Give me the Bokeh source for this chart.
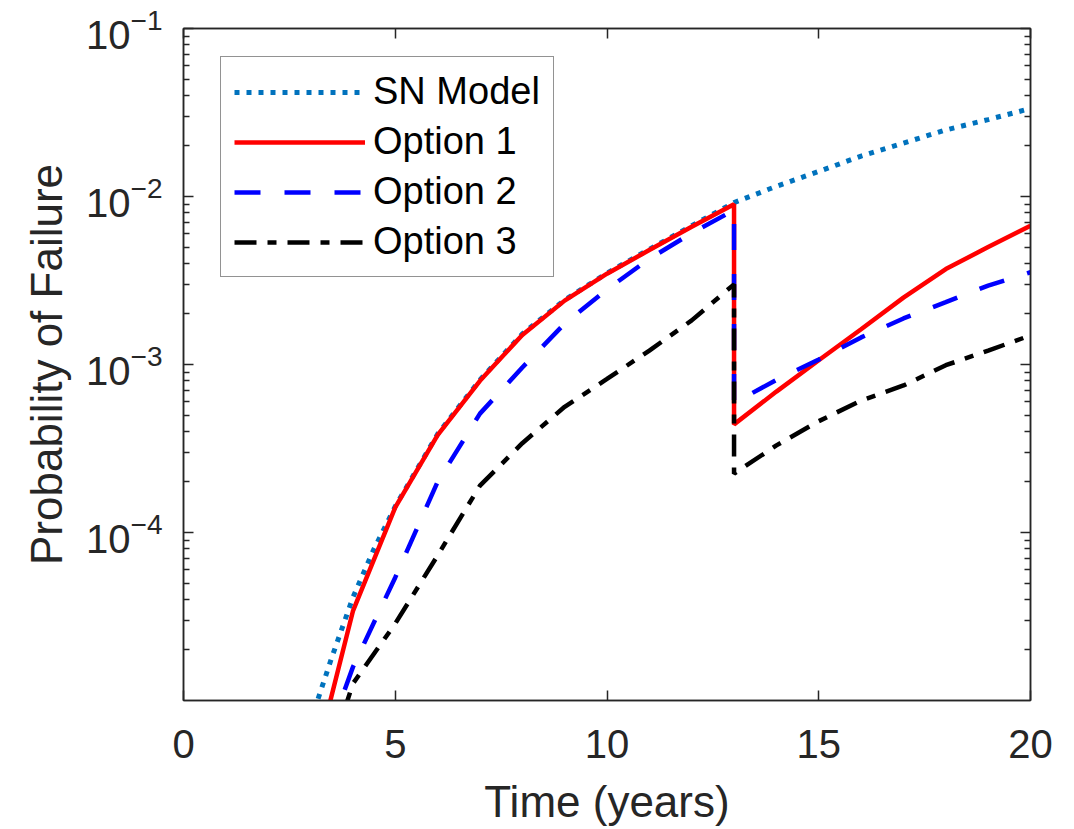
from bokeh.plotting import figure
from bokeh.models import (LogAxis, LinearAxis, FixedTicker, CustomJSTickFormatter,
                          Legend, LegendItem, Range1d)
from bokeh.embed import file_html
from bokeh.resources import INLINE

# ---------------- data ----------------
t_sn = [3, 3.5, 4, 4.5, 5, 6, 7, 8, 9, 10, 11, 12, 13, 14, 15, 16, 17, 18, 19, 20]
sn_model = [7.5e-6, 1.8e-5, 4.1e-5, 8.0e-5, 1.43e-4, 3.85e-4, 8.1e-4, 1.52e-3, 2.42e-3,
            3.5e-3, 4.85e-3, 6.7e-3, 9.2e-3, 1.15e-2, 1.41e-2, 1.74e-2, 2.08e-2,
            2.49e-2, 2.87e-2, 3.34e-2]

t_opt = [3, 4, 5, 6, 7, 8, 9, 10, 11, 12, 13, 13, 14, 15, 16, 17, 18, 19, 20]
option1 = [3.4e-6, 3.4e-5, 1.41e-4, 3.8e-4, 8.0e-4, 1.5e-3, 2.4e-3, 3.47e-3, 4.8e-3,
           6.6e-3, 9.0e-3, 4.4e-4, 6.9e-4, 1.06e-3, 1.62e-3, 2.5e-3, 3.7e-3, 5.0e-3, 6.7e-3]
option2 = [3.2e-6, 1.58e-5, 5.4e-5, 2.0e-4, 5.1e-4, 9.6e-4, 1.75e-3, 2.8e-3, 4.26e-3,
           6.05e-3, 8.3e-3, 5.9e-4, 8.1e-4, 1.07e-3, 1.45e-3, 1.88e-3, 2.35e-3, 2.95e-3, 3.54e-3]
option3 = [2.1e-6, 1.26e-5, 2.87e-5, 7.3e-5, 1.9e-4, 3.4e-4, 5.6e-4, 8.2e-4, 1.21e-3,
           1.83e-3, 3.0e-3, 2.24e-4, 3.3e-4, 4.6e-4, 6.1e-4, 7.5e-4, 9.9e-4, 1.21e-3, 1.49e-3]

series_labels = ["SN Model", "Option 1", "Option 2", "Option 3"]
x_ticks = [0, 5, 10, 15, 20]
y_major = [1e-4, 1e-3, 1e-2, 1e-1]
y_minor = [m * 10.0 ** e for e in range(-5, -1) for m in range(2, 10)]

# ---------------- styling ----------------
AX = "#262626"
FONT = "Liberation Sans"

p = figure(width=1074, height=829,
           x_range=Range1d(0, 20), y_range=Range1d(1e-5, 1e-1),
           y_axis_type="log", output_backend="svg", toolbar_location=None,
           min_border_left=183, min_border_right=44,
           min_border_top=28, min_border_bottom=129)
p.background_fill_color = "white"
p.border_fill_color = "white"
p.outline_line_color = AX
p.outline_line_width = 1.5
p.grid.visible = False

r_sn = p.line(t_sn, sn_model, line_color="#0072BD", line_width=5, line_dash="5 7")
r_1 = p.line(t_opt, option1, line_color="#FF0000", line_width=4.5)
r_2 = p.line(t_opt, option2, line_color="#0000FF", line_width=4.5, line_dash="26 24")
r_3 = p.line(t_opt, option3, line_color="#000000", line_width=4.5, line_dash="22 11 9 11")


def style_axis(ax):
    ax.axis_line_color = AX
    ax.axis_line_width = 1.5
    ax.major_tick_line_color = AX
    ax.minor_tick_line_color = AX
    ax.major_tick_line_width = 1.5
    ax.minor_tick_line_width = 1.5
    ax.major_tick_in = 10
    ax.major_tick_out = 0
    ax.minor_tick_in = 6
    ax.minor_tick_out = 0
    ax.major_label_text_font = FONT
    ax.major_label_text_color = AX
    ax.major_label_text_font_size = "40px"
    ax.axis_label_text_font = FONT
    ax.axis_label_text_color = AX
    ax.axis_label_text_font_size = "44px"
    ax.axis_label_text_font_style = "normal"


xa = p.xaxis[0]
style_axis(xa)
xa.ticker = FixedTicker(ticks=x_ticks, minor_ticks=[])
xa.axis_label = "Time (years)"
xa.major_label_standoff = 29
xa.axis_label_standoff = 16

ya = p.yaxis[0]
style_axis(ya)
ya.ticker = FixedTicker(ticks=y_major, minor_ticks=y_minor)
ya.axis_label = "Probability of Failure"
ya.major_label_standoff = 21
ya.axis_label_standoff = 12

blank = CustomJSTickFormatter(code="return ''")
ra = LogAxis(ticker=FixedTicker(ticks=y_major, minor_ticks=y_minor), formatter=blank)
style_axis(ra)
ra.major_label_standoff = 0
p.add_layout(ra, "right")

ta = LinearAxis(ticker=FixedTicker(ticks=x_ticks, minor_ticks=[]), formatter=blank)
style_axis(ta)
ta.major_label_standoff = 0
p.add_layout(ta, "above")

legend = Legend(items=[LegendItem(label=series_labels[0], renderers=[r_sn]),
                       LegendItem(label=series_labels[1], renderers=[r_1]),
                       LegendItem(label=series_labels[2], renderers=[r_2]),
                       LegendItem(label=series_labels[3], renderers=[r_3])],
                location=(37, 423))
legend.label_text_font = FONT
legend.label_text_font_size = "38px"
legend.label_text_color = "#000000"
legend.glyph_width = 131
legend.glyph_height = 40
legend.label_height = 40
legend.label_standoff = 8
legend.spacing = 7
legend.padding = 13
legend.margin = 0
legend.border_line_color = AX
legend.border_line_width = 1.5
legend.background_fill_color = "white"
legend.background_fill_alpha = 1.0
p.add_layout(legend)

open("out.html", "w").write(file_html(p, INLINE))
